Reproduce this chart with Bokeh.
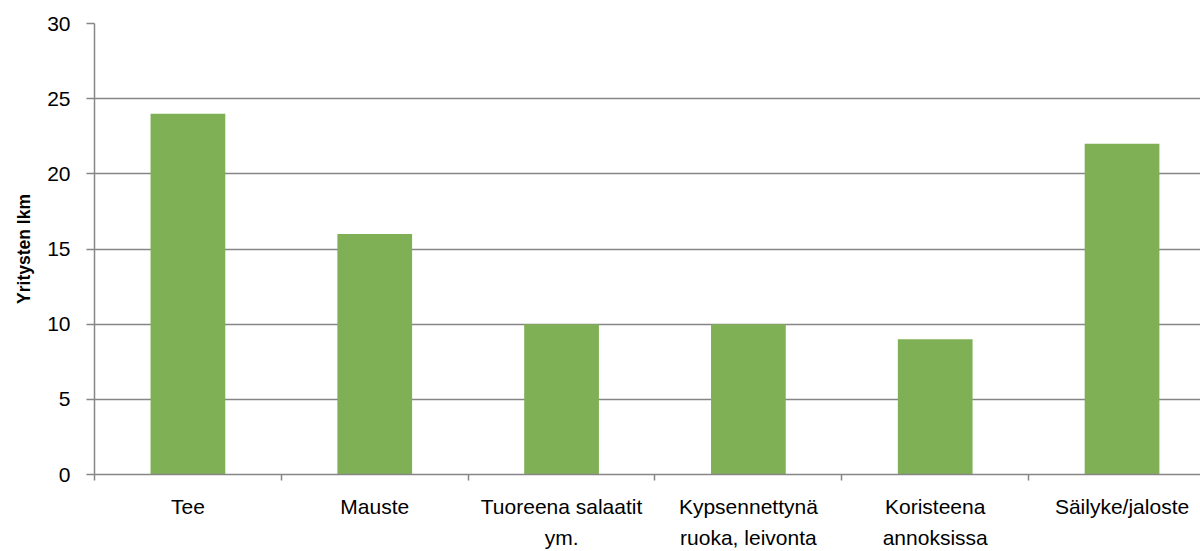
from bokeh.plotting import figure
from bokeh.models import FixedTicker, Range1d, ColumnDataSource
from bokeh.embed import file_html
from bokeh.resources import INLINE

categories = ["Tee", "Mauste", "Tuoreena salaatit\nym.", "Kypsennettynä\nruoka, leivonta",
              "Koristeena\nannoksissa", "Säilyke/jaloste"]
values = [24, 16, 10, 10, 9, 22]
y_ticks = [0, 5, 10, 15, 20, 25, 30]
y_title = "Yritysten lkm"

FONT = "Liberation Sans"
GRAY = "#868686"
GREEN = "#80B055"

xs = [i + 0.5 for i in range(len(categories))]
src = ColumnDataSource(dict(x=xs, top=values))

p = figure(width=1200, height=551, output_backend="svg", toolbar_location=None,
           x_range=Range1d(0, 5.92), y_range=Range1d(0, 30),
           min_border_left=94, min_border_right=0, min_border_top=23, min_border_bottom=76)
p.outline_line_color = None
p.vbar(x="x", top="top", width=0.40, bottom=0, source=src, color=GREEN, line_color=None)

# y axis
p.yaxis.ticker = FixedTicker(ticks=y_ticks)
p.yaxis.axis_line_color = GRAY
p.yaxis.axis_line_width = 1.5
p.yaxis.major_tick_line_color = GRAY
p.yaxis.major_tick_line_width = 1.5
p.yaxis.major_tick_out = 8
p.yaxis.major_tick_in = 0
p.yaxis.minor_tick_line_color = None
p.yaxis.major_label_text_font = FONT
p.yaxis.major_label_text_font_size = "21px"
p.yaxis.major_label_text_color = "black"
p.yaxis.major_label_standoff = 16
p.yaxis.axis_label = y_title
p.yaxis.axis_label_text_font = FONT
p.yaxis.axis_label_text_font_size = "17.5px"
p.yaxis.axis_label_text_font_style = "bold"
p.yaxis.axis_label_text_color = "black"
p.yaxis.axis_label_standoff = 10

# x axis
p.xaxis.ticker = FixedTicker(ticks=xs, minor_ticks=list(range(len(categories) + 1)))
p.xaxis.major_label_overrides = {x: c for x, c in zip(xs, categories)}
p.xaxis.axis_line_color = GRAY
p.xaxis.axis_line_width = 1.5
p.xaxis.major_tick_line_color = None
p.xaxis.major_tick_out = 0
p.xaxis.major_tick_in = 0
p.xaxis.minor_tick_line_color = GRAY
p.xaxis.minor_tick_line_width = 1.5
p.xaxis.minor_tick_out = 6
p.xaxis.minor_tick_in = 0
p.xaxis.major_label_text_font = FONT
p.xaxis.major_label_text_font_size = "21px"
p.xaxis.major_label_text_color = "black"
p.xaxis.major_label_text_line_height = 1.35
p.xaxis.major_label_standoff = 14

p.xgrid.grid_line_color = None
p.ygrid.ticker = FixedTicker(ticks=y_ticks)
p.ygrid.grid_line_color = GRAY
p.ygrid.grid_line_width = 1.5

open("out.html", "w").write(file_html(p, INLINE))
